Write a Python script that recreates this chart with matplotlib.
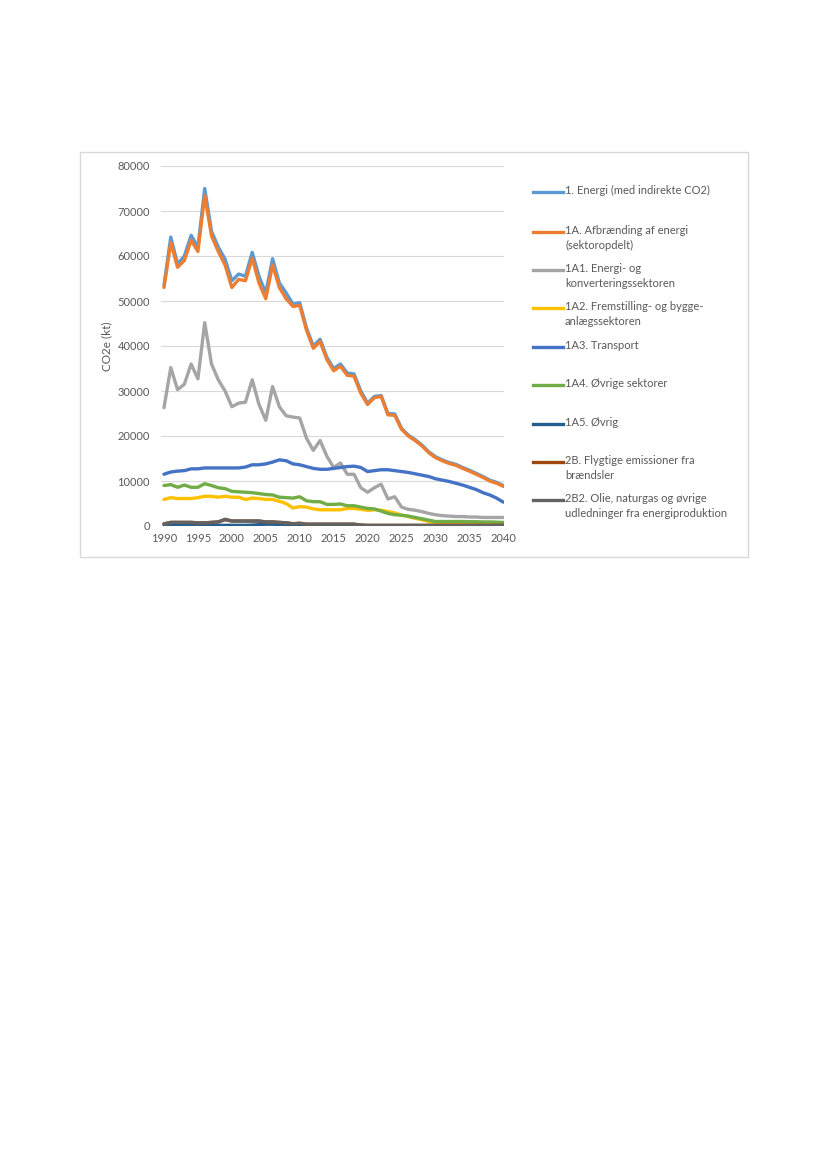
import numpy as np
import matplotlib.pyplot as plt
from matplotlib.lines import Line2D
from matplotlib.patches import Rectangle

plt.rcParams["font.family"] = ["Lato", "DejaVu Sans"]

YEARS = list(range(1990, 2041))

ENERGI_TOTAL = [53500, 64200, 58200, 60000, 64600, 62000, 75000, 65500, 62000, 59300,
                54500, 56000, 55500, 60800, 55500, 51800, 59400, 54000, 51800, 49300,
                49600, 44000, 40000, 41500, 37500, 35000, 36000, 34000, 33800, 30000,
                27300, 28800, 29000, 25000, 24900, 21700, 20200, 19200, 18000, 16500,
                15400, 14700, 14100, 13700, 13000, 12400, 11700, 11000, 10200, 9700, 9000]
AFBRAENDING = [53000, 63000, 57500, 59000, 63500, 61000, 73500, 64500, 61000, 58000,
               53000, 54800, 54500, 59500, 54000, 50500, 58000, 53000, 50500, 48800,
               49000, 43500, 39500, 41000, 37000, 34500, 35500, 33500, 33300, 29500,
               27000, 28500, 28800, 24700, 24600, 21500, 20000, 19000, 17800, 16300,
               15200, 14500, 13900, 13500, 12800, 12200, 11500, 10800, 10000, 9500, 8800]
ENERGI_KONV = [26300, 35200, 30300, 31500, 36000, 32700, 45200, 36000, 32500, 30000,
               26500, 27300, 27500, 32500, 27000, 23500, 31000, 26500, 24500, 24200,
               24000, 19500, 16800, 19000, 15500, 13000, 14000, 11500, 11500, 8500,
               7500, 8500, 9300, 6000, 6500, 4200, 3700, 3500, 3200, 2800,
               2500, 2300, 2200, 2100, 2100, 2000, 2000, 1900, 1900, 1900, 1900]
FREMSTILLING = [5900, 6300, 6100, 6100, 6100, 6300, 6600, 6600, 6400, 6600,
                6400, 6400, 5900, 6200, 6100, 5900, 5900, 5500, 5000, 4000,
                4300, 4200, 3800, 3600, 3600, 3600, 3600, 3900, 3900, 3700,
                3500, 3600, 3500, 3200, 2900, 2400, 2100, 1700, 1400, 1000,
                700, 700, 700, 700, 700, 650, 650, 650, 650, 600, 600]
TRANSPORT = [11500, 12000, 12200, 12300, 12700, 12700, 12900, 12900, 12900, 12900,
             12900, 12900, 13100, 13600, 13600, 13800, 14200, 14700, 14500, 13800,
             13600, 13200, 12800, 12600, 12600, 12800, 13000, 13200, 13300, 13000,
             12100, 12300, 12500, 12500, 12300, 12100, 11900, 11600, 11300, 11000,
             10500, 10200, 9900, 9500, 9100, 8600, 8100, 7400, 6900, 6200, 5300]
OVRIGE_SEKTORER = [9000, 9200, 8600, 9100, 8600, 8600, 9400, 9000, 8500, 8300,
                   7700, 7600, 7500, 7400, 7200, 7000, 6900, 6400, 6300, 6200,
                   6500, 5600, 5400, 5400, 4800, 4800, 4900, 4500, 4500, 4200,
                   3900, 3800, 3300, 2800, 2500, 2400, 2200, 1900, 1600, 1300,
                   1000, 1000, 1000, 1000, 1000, 950, 950, 900, 900, 850, 800]
OVRIG = [300, 200, 150, 150, 150, 150, 150, 150, 150, 150,
         150, 150, 150, 200, 300, 400, 400, 300, 200, 150,
         150, 150, 150, 150, 150, 150, 150, 150, 150, 100,
         100, 100, 100, 100, 100, 100, 100, 100, 100, 100,
         100, 100, 100, 100, 100, 100, 100, 100, 100, 100, 100]
FLYGTIGE = [500, 800, 800, 800, 800, 700, 700, 800, 900, 1400,
            1100, 1100, 1100, 1100, 1100, 900, 900, 800, 700, 500,
            600, 400, 400, 400, 400, 400, 400, 400, 400, 200,
            150, 150, 150, 150, 150, 150, 150, 150, 150, 150,
            150, 150, 150, 150, 150, 150, 150, 150, 150, 150, 150]
OLIE_NATURGAS = [400, 800, 800, 800, 800, 700, 700, 800, 900, 1500,
                 1100, 1100, 1100, 1100, 1100, 900, 900, 800, 700, 500,
                 600, 400, 400, 400, 400, 400, 400, 400, 400, 200,
                 100, 100, 100, 100, 100, 100, 100, 100, 100, 100,
                 100, 100, 100, 100, 100, 100, 100, 100, 100, 100, 100]

SERIES = [
    ("1. Energi (med indirekte CO2)", ENERGI_TOTAL, "#5B9BD5"),
    ("1A. Afbrænding af energi\n(sektoropdelt)", AFBRAENDING, "#ED7D31"),
    ("1A1. Energi- og\nkonverteringssektoren", ENERGI_KONV, "#A5A5A5"),
    ("1A2. Fremstilling- og bygge-\nanlægssektoren", FREMSTILLING, "#FFC000"),
    ("1A3. Transport", TRANSPORT, "#4472C4"),
    ("1A4. Øvrige sektorer", OVRIGE_SEKTORER, "#70AD47"),
    ("1A5. Øvrig", OVRIG, "#255E91"),
    ("2B. Flygtige emissioner fra\nbrændsler", FLYGTIGE, "#9E480E"),
    ("2B2. Olie, naturgas og øvrige\nudledninger fra energiproduktion", OLIE_NATURGAS, "#636363"),
]
LEGEND_Y = [192, 232, 270, 308, 347, 385, 424, 462, 500]

W, H = 827, 1169
fig = plt.figure(figsize=(W / 100, H / 100), dpi=100)

# chart frame (behind the axes)
frame = Rectangle((80 / W, 1 - 557 / H), 668 / W, 405 / H, transform=fig.transFigure,
                  facecolor="white", edgecolor="#D9D9D9", linewidth=1.0, zorder=-5)
fig.add_artist(frame)

ax = fig.add_axes([161 / W, 1 - 526 / H, 343 / W, 360 / H])
ax.set_zorder(2)
ax.patch.set_alpha(0)
for label, vals, color in SERIES:
    ax.plot(YEARS, vals, color=color, linewidth=2.4, solid_capstyle="round", zorder=3)

ax.set_xlim(1989.56, 2040.1)
ax.set_ylim(0, 80000)
ax.set_yticks(np.arange(0, 80001, 10000))
ax.set_xticks(np.arange(1990, 2041, 5))
ax.grid(axis="y", color="#D9D9D9", linewidth=0.8)
ax.set_axisbelow(True)
for s in ax.spines.values():
    s.set_visible(False)
ax.tick_params(length=0, labelsize=8, colors="#595959", pad=8)
ax.tick_params(axis="x", pad=5)
ax.set_ylabel("CO2e (kt)", fontsize=8.5, color="#595959", labelpad=4)

# legend
for (label, vals, color), yy in zip(SERIES, LEGEND_Y):
    fy = 1 - yy / H
    fig.add_artist(Line2D([533 / W, 563 / W], [fy, fy], transform=fig.transFigure,
                          color=color, linewidth=2.4, zorder=3))
    fig.text(565 / W, fy + 0.006, label, fontsize=8, color="#595959",
             ha="left", va="top", linespacing=1.4, zorder=3)

fig.savefig("out.png", dpi=100)
